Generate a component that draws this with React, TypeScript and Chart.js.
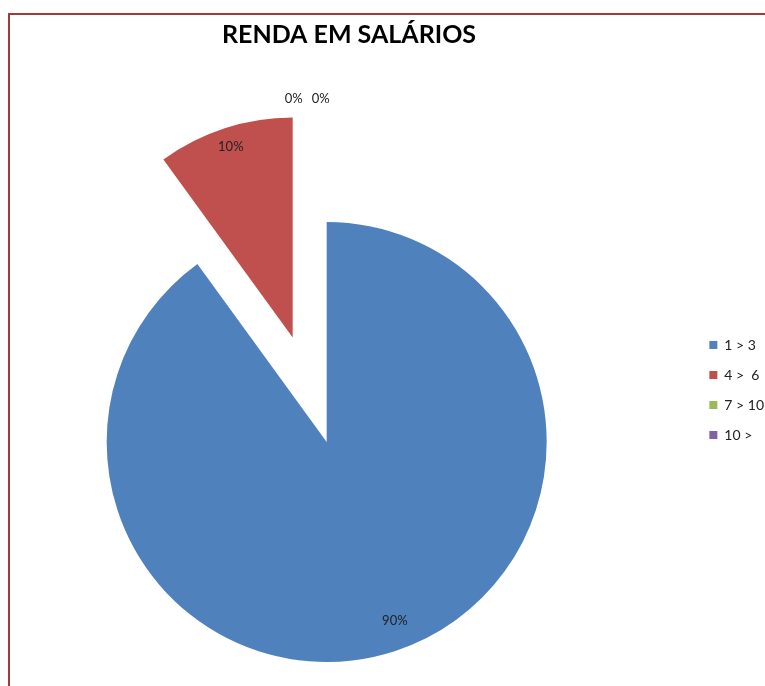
import React, { useEffect, useRef } from "react";
import { Chart, registerables } from "chart.js";

Chart.register(...registerables);

const title = "RENDA EM SALÁRIOS";
const categories = ["1 > 3", "4 >  6", "7 > 10", "10 >"];
const values = [90, 10, 0, 0];
const colors = ["#4f81bd", "#c0504d", "#9bbb59", "#8064a2"];
const explodeDistance = [0, 110, 0, 0];

const explodePlugin = {
  id: "explodeSlices",
  afterDatasetsUpdate(chart: any) {
    const meta = chart.getDatasetMeta(0);
    meta.data.forEach((arc: any, i: number) => {
      const d = explodeDistance[i] || 0;
      if (!d) return;
      const mid = (arc.startAngle + arc.endAngle) / 2;
      arc.x += Math.cos(mid) * d;
      arc.y += Math.sin(mid) * d;
    });
  },
};

const labelPlugin = {
  id: "sliceLabels",
  afterDatasetsDraw(chart: any) {
    const ctx = chart.ctx;
    const meta = chart.getDatasetMeta(0);
    const data = chart.data.datasets[0].data as number[];
    const total = data.reduce((a, b) => a + b, 0);
    ctx.save();
    ctx.font = "13px Lato";
    ctx.fillStyle = "#222";
    ctx.textAlign = "center";
    ctx.textBaseline = "middle";
    let zeroIdx = 0;
    meta.data.forEach((arc: any, i: number) => {
      const p = arc.getProps(["x", "y", "startAngle", "endAngle", "outerRadius"], true);
      const mid = (p.startAngle + p.endAngle) / 2;
      const txt = Math.round((data[i] / total) * 100) + "%";
      if (data[i] === 0) {
        const R = p.outerRadius * 1.56;
        const x = p.x + Math.cos(mid) * R - 33 + zeroIdx * 27;
        const y = p.y + Math.sin(mid) * R;
        ctx.fillText(txt, x, y);
        zeroIdx++;
        return;
      }
      const r = p.outerRadius * (i === 0 ? 0.87 : 0.91);
      const a = i === 0 ? mid - 0.05 : mid;
      ctx.fillText(txt, p.x + Math.cos(a) * r, p.y + Math.sin(a) * r);
    });
    ctx.restore();
  },
};

const titlePlugin = {
  id: "customTitle",
  afterDraw(chart: any) {
    const ctx = chart.ctx;
    ctx.save();
    ctx.font = "bold 25px Lato";
    ctx.fillStyle = "#000";
    ctx.textAlign = "center";
    ctx.textBaseline = "alphabetic";
    ctx.fillText(title, 389, 28);
    ctx.restore();
  },
};

export default function App() {
  const ref = useRef<HTMLCanvasElement>(null);
  useEffect(() => {
    if (!ref.current) return;
    const chart = new Chart(ref.current, {
      type: "pie",
      data: {
        labels: categories,
        datasets: [
          {
            data: values,
            backgroundColor: colors,
            borderWidth: 0,
            clip: false,
          } as any,
        ],
      },
      options: {
        animation: false,
        responsive: false,
        radius: 220,
        cutout: "0%",
        layout: { padding: { left: 0, right: 13, top: 307, bottom: 124 } },
        plugins: {
          title: { display: false },
          tooltip: { enabled: false },
          legend: {
            position: "right",
            align: "start",
            labels: {
              boxWidth: 8,
              boxHeight: 8,
              padding: 16,
              color: "#222",
              font: { family: "Lato", size: 14 },
            },
          },
        },
      } as any,
      plugins: [explodePlugin, labelPlugin, titlePlugin],
    });
    return () => chart.destroy();
  }, []);
  return (
    <div
      style={{
        position: "fixed",
        left: 8,
        top: 13,
        width: 757,
        height: 673,
        boxSizing: "border-box",
        borderTop: "2px solid #a3393b",
        borderLeft: "2px solid #a3393b",
        overflow: "hidden",
        background: "#fff",
      }}
    >
      <canvas
        ref={ref}
        width={827}
        height={671}
        style={{ position: "absolute", left: -50, top: 0, width: 827, height: 671 }}
      />
    </div>
  );
}
